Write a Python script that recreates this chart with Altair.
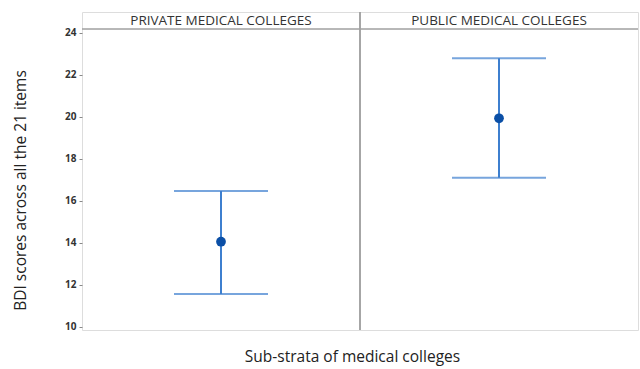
import altair as alt
import pandas as pd

categories = ["PRIVATE MEDICAL COLLEGES", "PUBLIC MEDICAL COLLEGES"]
means = [14.06, 19.94]
lower = [11.57, 17.11]
upper = [16.48, 22.80]
y_ticks = [10, 12, 14, 16, 18, 20, 22, 24]

df = pd.DataFrame({"group": categories, "mean": means, "lo": lower, "hi": upper})

W, H = 556, 318
STRIP = 17
FONT = "Open Sans"

xenc = alt.X(
    "group:N",
    sort=categories,
    scale=alt.Scale(type="band", paddingInner=0, paddingOuter=0),
    axis=alt.Axis(
        title="Sub-strata of medical colleges",
        labels=False, ticks=False, domain=False,
        titleFont=FONT, titleFontSize=15.5, titleFontWeight="normal",
        titleColor="#222", titlePadding=19, titleX=270,
    ),
)
yscale = alt.Scale(domain=[9.857, 24.19], range=[H, STRIP], nice=False, zero=False)
yaxis = alt.Axis(
    title="BDI scores across all the 21 items",
    values=y_ticks, grid=False, domain=False,
    tickSize=3, tickColor="#888", labelPadding=3,
    labelFont=FONT, labelFontSize=10, labelFontWeight="bold", labelColor="#333",
    titleFont=FONT, titleFontSize=15.5, titleFontWeight="normal",
    titleColor="#222", titlePadding=36, titleY=178,
)

base = alt.Chart(df)

vline = base.mark_rule(color="#3d7fcf", strokeWidth=2).encode(
    x=xenc,
    y=alt.Y("lo:Q", scale=yscale, axis=yaxis),
    y2="hi:Q",
)
cap_lo = base.mark_tick(color="#3d7fcf", thickness=2, size=94).encode(
    x=alt.X("group:N", sort=categories), y=alt.Y("lo:Q")
)
cap_hi = base.mark_tick(color="#3d7fcf", thickness=2, size=94).encode(
    x=alt.X("group:N", sort=categories), y=alt.Y("hi:Q")
)
pts = base.mark_circle(color="#0b4fa6", opacity=1, size=95).encode(
    x=alt.X("group:N", sort=categories), y=alt.Y("mean:Q")
)
header_text = base.mark_text(
    font=FONT, fontSize=13.5, color="#333", baseline="middle"
).encode(
    x=alt.X("group:N", sort=categories),
    y=alt.value(STRIP / 2 + 0.5),
    text="group:N",
)
header_line = base.mark_rule(color="#a0a0a0", strokeWidth=1).encode(
    x=alt.value(0), x2=alt.value(W), y=alt.value(STRIP)
)
divider = base.mark_rule(color="#a0a0a0", strokeWidth=1.5).encode(
    x=alt.value(W / 2), y=alt.value(0), y2=alt.value(H)
)

chart = alt.layer(header_line, divider, vline, cap_lo, cap_hi, pts, header_text).properties(
    width=W, height=H,
    autosize=alt.AutoSizeParams(type="none"),
    padding={"left": 82, "top": 12, "right": 2, "bottom": 39},
).configure_view(
    stroke="#a0a0a0", strokeWidth=1
).configure(background="white")

chart.save("out.html", embed_options={"renderer": "svg", "actions": False})
